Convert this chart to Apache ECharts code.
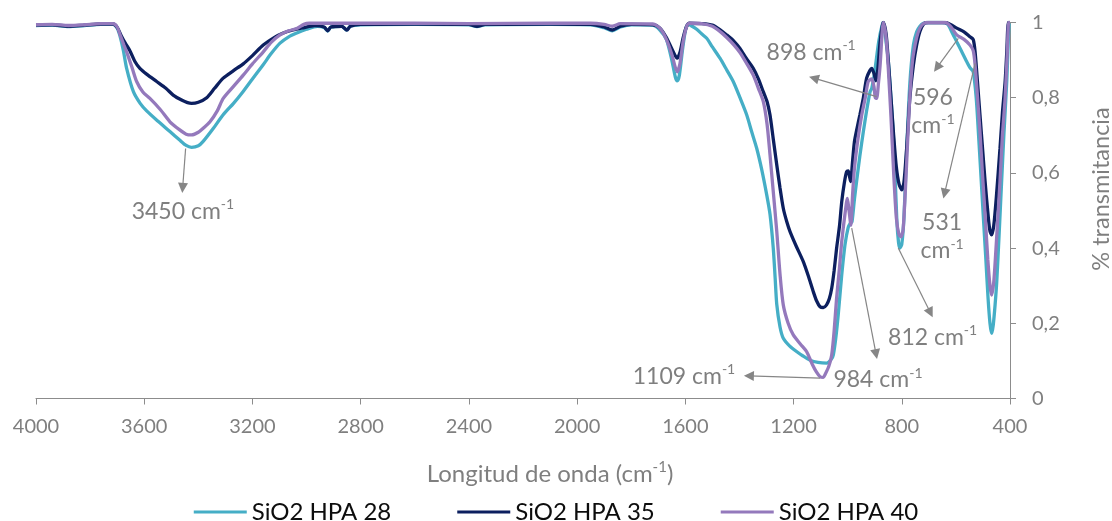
<!DOCTYPE html>
<html>
<head>
<meta charset="utf-8">
<script src="https://cdn.jsdelivr.net/npm/echarts@6/dist/echarts.min.js"></script>
<style>
  html, body { margin: 0; padding: 0; background: #ffffff; }
  #chart { width: 1112px; height: 521px; }
</style>
</head>
<body>
<div id="chart"></div>
<script>
// FTIR spectra of three SiO2 samples: wavenumber (cm-1) vs. transmittance
const seriesNames = ['SiO2 HPA 28', 'SiO2 HPA 35', 'SiO2 HPA 40'];
const seriesColors = ['#45AEC6', '#0C1F5F', '#9479BC'];

const yTickLabels = ['0', '0,2', '0,4', '0,6', '0,8', '1'];

// SiO2 HPA 28
const wn28 = [4000, 3940, 3880, 3820, 3760, 3715, 3700, 3690, 3677, 3665, 3640, 3615, 3591, 3550, 3505, 3470, 3445, 3425, 3400, 3383,
  3345, 3309, 3270, 3235, 3200, 3161, 3130, 3098, 3066, 3036, 3000, 2960, 2935, 2922, 2910, 2870, 2852, 2838, 2800, 2600,
  2400, 2370, 2340, 2100, 1950, 1900, 1870, 1840, 1800, 1767, 1720, 1694, 1670, 1650, 1637, 1630, 1622, 1610, 1598, 1589,
  1575, 1558, 1540, 1521, 1500, 1472, 1448, 1423, 1398, 1373, 1355, 1336, 1318, 1299, 1287, 1275, 1268, 1262, 1250, 1238,
  1215, 1189, 1165, 1139, 1110, 1078, 1060, 1053, 1044, 1035, 1022, 1010, 998, 990, 984, 975, 967, 955, 942, 930,
  917, 911, 900, 885, 872, 868, 862, 850, 840, 831, 825, 818, 812, 807, 800, 792, 782, 770, 757, 745,
  733, 720, 700, 650, 630, 615, 597, 580, 560, 548, 536, 525, 517, 508, 499, 490, 481, 474, 468, 462,
  455, 449, 440, 431, 422, 412, 402, 400];
const t28 = [0.992, 0.993, 0.989, 0.992, 0.995, 0.995, 0.985, 0.965, 0.925, 0.878, 0.816, 0.785, 0.765, 0.738, 0.710, 0.688, 0.673, 0.668, 0.672, 0.683,
  0.718, 0.754, 0.785, 0.816, 0.850, 0.887, 0.918, 0.945, 0.962, 0.972, 0.982, 0.990, 0.987, 0.977, 0.988, 0.990, 0.980, 0.990, 0.994, 0.995,
  0.994, 0.989, 0.994, 0.995, 0.994, 0.986, 0.978, 0.988, 0.994, 0.994, 0.993, 0.980, 0.955, 0.900, 0.855, 0.845, 0.860, 0.930, 0.985, 0.995,
  0.990, 0.982, 0.970, 0.958, 0.935, 0.905, 0.875, 0.843, 0.800, 0.754, 0.710, 0.665, 0.610, 0.541, 0.490, 0.400, 0.320, 0.250, 0.190, 0.160,
  0.140, 0.125, 0.113, 0.102, 0.096, 0.094, 0.105, 0.116, 0.160, 0.222, 0.328, 0.408, 0.455, 0.466, 0.470, 0.530, 0.577, 0.645, 0.710, 0.765,
  0.816, 0.825, 0.870, 0.950, 0.995, 1.000, 0.970, 0.900, 0.800, 0.700, 0.600, 0.470, 0.415, 0.400, 0.410, 0.480, 0.660, 0.840, 0.940, 0.975,
  0.990, 0.998, 1.000, 1.000, 0.995, 0.975, 0.949, 0.925, 0.896, 0.880, 0.869, 0.800, 0.710, 0.600, 0.488, 0.380, 0.266, 0.200, 0.173, 0.195,
  0.250, 0.310, 0.440, 0.577, 0.710, 0.843, 1.000, 1.000];

// SiO2 HPA 35
const wn35 = [4000, 3940, 3880, 3820, 3760, 3715, 3700, 3685, 3670, 3653, 3635, 3616, 3590, 3554, 3520, 3493, 3460, 3440, 3425, 3400,
  3369, 3340, 3308, 3270, 3234, 3200, 3160, 3120, 3086, 3050, 3012, 2970, 2935, 2922, 2910, 2870, 2851, 2838, 2800, 2600,
  2400, 2370, 2340, 2100, 1950, 1900, 1870, 1840, 1800, 1720, 1694, 1670, 1650, 1630, 1620, 1608, 1595, 1585, 1540, 1500,
  1470, 1447, 1420, 1398, 1375, 1349, 1330, 1312, 1298, 1287, 1275, 1262, 1250, 1238, 1225, 1213, 1190, 1164, 1145, 1127,
  1115, 1102, 1090, 1078, 1068, 1059, 1050, 1041, 1030, 1022, 1012, 1004, 998, 993, 989, 982, 975, 965, 955, 942,
  930, 918, 911, 903, 895, 888, 880, 872, 868, 858, 850, 840, 830, 820, 810, 800, 792, 782, 770, 757,
  745, 733, 720, 708, 640, 620, 597, 570, 548, 536, 529, 520, 511, 502, 492, 480, 474, 468, 460, 450,
  437, 428, 418, 412, 406, 400];
const t35 = [0.993, 0.994, 0.990, 0.993, 0.996, 0.996, 0.987, 0.965, 0.945, 0.925, 0.897, 0.878, 0.862, 0.843, 0.825, 0.807, 0.793, 0.787, 0.785, 0.788,
  0.800, 0.825, 0.852, 0.872, 0.890, 0.912, 0.940, 0.960, 0.972, 0.980, 0.986, 0.992, 0.988, 0.978, 0.988, 0.990, 0.980, 0.990, 0.995, 0.996,
  0.995, 0.990, 0.995, 0.996, 0.995, 0.988, 0.980, 0.990, 0.995, 0.994, 0.985, 0.960, 0.930, 0.905, 0.920, 0.960, 0.990, 0.998, 0.997, 0.993,
  0.980, 0.967, 0.950, 0.931, 0.905, 0.878, 0.850, 0.816, 0.790, 0.754, 0.690, 0.621, 0.560, 0.506, 0.470, 0.444, 0.405, 0.364, 0.325, 0.284,
  0.260, 0.244, 0.242, 0.249, 0.265, 0.293, 0.340, 0.399, 0.460, 0.523, 0.575, 0.603, 0.605, 0.590, 0.577, 0.630, 0.683, 0.720, 0.754, 0.800,
  0.852, 0.872, 0.878, 0.865, 0.845, 0.880, 0.949, 0.990, 1.000, 0.970, 0.900, 0.800, 0.700, 0.615, 0.570, 0.555, 0.575, 0.666, 0.800, 0.887,
  0.940, 0.976, 0.995, 1.000, 1.000, 0.995, 0.985, 0.975, 0.962, 0.955, 0.922, 0.840, 0.754, 0.670, 0.577, 0.480, 0.445, 0.435, 0.460, 0.540,
  0.665, 0.760, 0.843, 0.920, 1.000, 1.000];

// SiO2 HPA 40
const wn40 = [4000, 3940, 3880, 3820, 3760, 3715, 3700, 3688, 3675, 3665, 3645, 3628, 3605, 3579, 3540, 3505, 3470, 3445, 3425, 3400,
  3380, 3357, 3330, 3308, 3270, 3234, 3200, 3160, 3130, 3098, 3066, 3036, 3010, 2990, 2600, 2400, 2100, 1950, 1900, 1870,
  1840, 1720, 1694, 1670, 1650, 1630, 1620, 1608, 1595, 1585, 1540, 1500, 1470, 1447, 1420, 1398, 1375, 1349, 1330, 1312,
  1298, 1287, 1275, 1262, 1250, 1238, 1220, 1201, 1175, 1152, 1130, 1115, 1102, 1090, 1084, 1070, 1059, 1050, 1041, 1030,
  1022, 1010, 1001, 995, 988, 982, 975, 962, 948, 935, 924, 911, 903, 898, 893, 886, 880, 872, 868, 858,
  850, 840, 830, 820, 810, 803, 795, 785, 772, 760, 745, 733, 720, 700, 640, 620, 597, 570, 548, 536,
  529, 520, 511, 502, 492, 482, 474, 468, 460, 450, 437, 428, 418, 410, 405, 400];
const t40 = [0.994, 0.995, 0.992, 0.994, 0.997, 0.997, 0.988, 0.965, 0.940, 0.922, 0.880, 0.843, 0.815, 0.798, 0.768, 0.736, 0.715, 0.703, 0.701, 0.708,
  0.720, 0.736, 0.765, 0.798, 0.830, 0.860, 0.890, 0.922, 0.948, 0.967, 0.978, 0.984, 0.995, 0.998, 0.998, 0.997, 0.998, 0.998, 0.995, 0.990,
  0.997, 0.996, 0.985, 0.955, 0.915, 0.869, 0.890, 0.950, 0.990, 0.998, 0.997, 0.990, 0.975, 0.960, 0.940, 0.920, 0.893, 0.860, 0.825, 0.790,
  0.730, 0.648, 0.550, 0.444, 0.330, 0.249, 0.200, 0.169, 0.145, 0.125, 0.090, 0.070, 0.058, 0.056, 0.063, 0.085, 0.116, 0.180, 0.266, 0.350,
  0.417, 0.490, 0.532, 0.500, 0.461, 0.540, 0.612, 0.690, 0.754, 0.800, 0.843, 0.850, 0.830, 0.800, 0.798, 0.840, 0.887, 0.980, 1.000, 0.960,
  0.880, 0.750, 0.600, 0.480, 0.435, 0.430, 0.450, 0.580, 0.780, 0.900, 0.960, 0.985, 0.997, 1.000, 1.000, 0.990, 0.967, 0.955, 0.940, 0.925,
  0.887, 0.800, 0.710, 0.600, 0.488, 0.370, 0.300, 0.275, 0.310, 0.420, 0.577, 0.700, 0.800, 0.920, 1.000, 1.000];

// Band annotations: arrow from a point on a spectrum to the band label
const bandNotes = [
  { label: '3450', from: [3447, 0.665], to: [3458, 0.560], at: [3457, 0.498] },
  { label: '898',  from: [893, 0.803],  to: [1125, 0.852], at: [1135, 0.921] },
  { label: '596',  from: [591, 0.958],  to: [670, 0.880],  at: [685, 0.762], twoLines: true },
  { label: '531',  from: [529, 0.891],  to: [642, 0.545],  at: [651, 0.4295], twoLines: true },
  { label: '812',  from: [813, 0.400],  to: [694, 0.228],  at: [686, 0.162] },
  { label: '984',  from: [985, 0.453],  to: [895, 0.118],  at: [888, 0.049] },
  { label: '1109', from: [1102, 0.054], to: [1365, 0.060], at: [1605, 0.0585] }
];

const grey = '#7F7F7F';
const axisGrey = '#8C8C8C';
const font = 'Lato';

function pairs(xs, ys) {
  return xs.map((x, i) => [x, ys[i]]);
}

const spectra = [pairs(wn28, t28), pairs(wn35, t35), pairs(wn40, t40)];

const noteRich = {
  n: { fontFamily: font, fontSize: 23, color: grey, lineHeight: 28 },
  s: { fontFamily: font, fontSize: 14, color: grey, lineHeight: 18, verticalAlign: 'top' }
};

const series = seriesNames.map((name, i) => ({
  name: name,
  type: 'line',
  data: spectra[i],
  showSymbol: false,
  symbol: 'none',
  smooth: 0.25,
  lineStyle: { width: 3.3, color: seriesColors[i] },
  itemStyle: { color: seriesColors[i] },
  z: 2 + i
}));

series.push({
  name: 'bandas',
  type: 'line',
  data: [],
  silent: true,
  z: 10,
  markLine: {
    silent: true,
    symbol: ['none', 'triangle'],
    symbolSize: 10,
    label: { show: false },
    lineStyle: { color: '#868686', width: 1.2, type: 'solid' },
    itemStyle: { color: '#868686' },
    emphasis: { disabled: true },
    data: bandNotes.map(b => [{ coord: b.from }, { coord: b.to }])
  },
  markPoint: {
    silent: true,
    symbol: 'circle',
    symbolSize: 1,
    itemStyle: { color: 'rgba(0,0,0,0)' },
    emphasis: { disabled: true },
    data: bandNotes.map(b => ({
      coord: b.at,
      label: {
        show: true,
        position: 'inside',
        align: 'center',
        verticalAlign: 'middle',
        formatter: b.twoLines ? '{n|' + b.label + '}\n{n|cm}{s|-1}' : '{n|' + b.label + ' cm}{s|-1}',
        rich: noteRich
      }
    }))
  }
});

const chart = echarts.init(document.getElementById('chart'), null, { renderer: 'canvas' });

chart.setOption({
  animation: false,
  backgroundColor: '#ffffff',
  textStyle: { fontFamily: font },
  grid: { left: 36, right: 102, top: 22.5, bottom: 122.5, containLabel: false },
  legend: {
    data: seriesNames,
    left: 'center',
    top: 495,
    icon: 'rect',
    itemWidth: 53,
    itemHeight: 3,
    itemGap: 66,
    textStyle: { fontFamily: font, fontSize: 24, color: '#0D0D0D' }
  },
  xAxis: {
    type: 'value',
    inverse: true,
    min: 400,
    max: 4000,
    interval: 400,
    name: '{a|Longitud de onda (cm}{s|-1}{a|)}',
    nameLocation: 'middle',
    nameGap: 61,
    nameTextStyle: {
      padding: [0, 0, 0, 54],
      rich: {
        a: { fontFamily: font, fontSize: 24, color: grey, lineHeight: 29 },
        s: { fontFamily: font, fontSize: 15, color: grey, lineHeight: 18, verticalAlign: 'top' }
      }
    },
    axisLine: { show: true, lineStyle: { color: axisGrey, width: 1 } },
    axisTick: { show: true, inside: false, length: 6, lineStyle: { color: axisGrey, width: 1 } },
    axisLabel: { color: grey, fontSize: 20, fontFamily: font, margin: 18, formatter: v => String(v) },
    splitLine: { show: false }
  },
  yAxis: {
    type: 'value',
    position: 'right',
    min: 0,
    max: 1,
    interval: 0.2,
    axisLine: { show: true, lineStyle: { color: axisGrey, width: 1 } },
    axisTick: { show: true, inside: false, length: 6, lineStyle: { color: axisGrey, width: 1 } },
    axisLabel: {
      color: grey,
      fontSize: 20,
      fontFamily: font,
      margin: 22,
      formatter: v => yTickLabels[Math.round(v / 0.2)]
    },
    splitLine: { show: false }
  },
  graphic: [{
    type: 'text',
    x: 1101,
    y: 189,
    rotation: Math.PI / 2,
    style: {
      text: '% transmitancia',
      fontFamily: font,
      fontSize: 23.5,
      fill: grey,
      align: 'center',
      verticalAlign: 'middle'
    }
  }],
  series: series
});
</script>
</body>
</html>
